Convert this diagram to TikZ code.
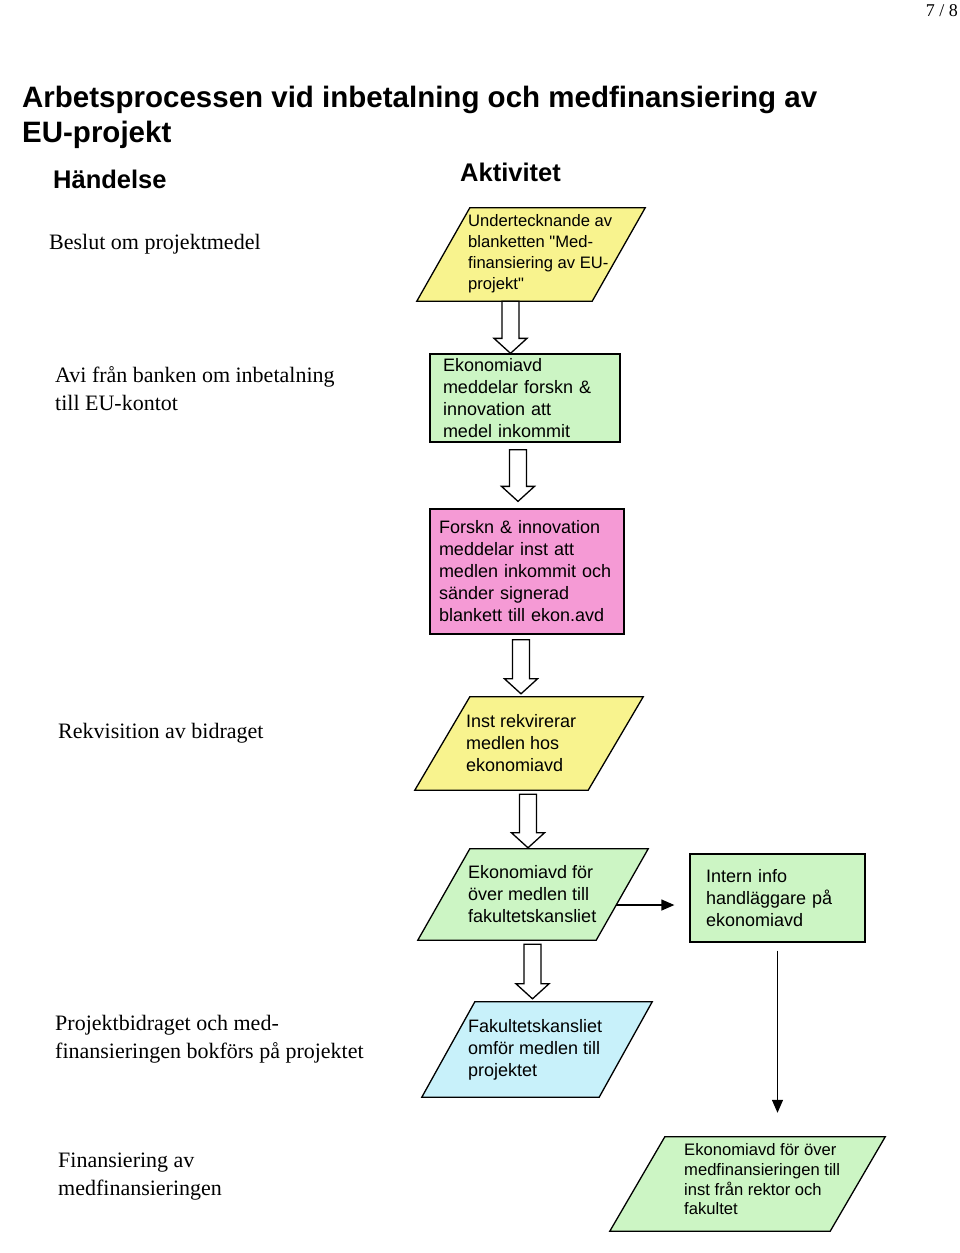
\documentclass[tikz,border=0pt]{standalone}
\usepackage{fontspec}
\setmainfont{Liberation Serif}
\newfontfamily\arialfont{Liberation Sans}
\usepackage{tikz}
\usetikzlibrary{arrows.meta, calc}
\usepackage{xcolor}
\definecolor{paleyellow}{HTML}{F8F38E}
\definecolor{palegreen}{HTML}{CCF5C4}
\definecolor{palepink}{HTML}{F59AD5}
\definecolor{palecyan}{HTML}{C8F1FA}

\newcommand{\blockdown}[3]{%
  \draw[blockarrow] let \p1=(#1), \p2=(#2) in
    ({#3pt-8.5pt},\y1) -- ({#3pt+8.5pt},\y1) -- ({#3pt+8.5pt},\y2+15pt)
    -- ({#3pt+16.5pt},\y2+15pt) -- ({#3pt},\y2) -- ({#3pt-16.5pt},\y2+15pt)
    -- ({#3pt-8.5pt},\y2+15pt) -- cycle;}

\newcommand{\parashape}[3]{%
  \coordinate (#1-bl) at (#1.south west);
  \coordinate (#1-tl) at ($(#1.north west)+(#3,0)$);
  \coordinate (#1-tr) at (#1.north east);
  \coordinate (#1-br) at ($(#1.south east)-(#3,0)$);
  \draw[paraline, fill=#2] (#1-bl) -- (#1-tl) -- (#1-tr) -- (#1-br) -- cycle;}

\begin{document}
\begin{tikzpicture}[x=1pt,y=-1pt]
  \tikzstyle{every node}=[inner sep=0pt]
  \tikzstyle{heading}=[anchor=west, font=\arialfont\bfseries\fontsize{25.5}{30}\selectfont]
  \tikzstyle{event}=[anchor=west, align=left, font=\fontsize{22}{28}\selectfont]
  \tikzstyle{rectbox}=[draw, line width=1.3pt, align=left, font=\arialfont\fontsize{18}{22}\selectfont]
  \tikzstyle{parabox}=[rectangle, minimum height=93, minimum width=228]
  \tikzstyle{paraline}=[draw, line width=1.3pt, line join=miter]
  \tikzstyle{paratext}=[anchor=west, align=left, font=\arialfont\fontsize{18}{22}\selectfont]
  \tikzstyle{blockarrow}=[draw, fill=white, line width=1.3pt, line join=miter]
  \tikzstyle{pointer}=[-{Triangle[length=13pt,width=11pt]}, line width=1.3pt]

  \fill[white] (0,0) rectangle (960,1253);
  \useasboundingbox (0,0) rectangle (960,1253);

  \node[anchor=east, font=\fontsize{18}{20}\selectfont] (page) at (958,11) {7 / 8};
  \node[heading, align=left, font=\arialfont\bfseries\fontsize{29.5}{35}\selectfont] (title) at (22,117)
    {Arbetsprocessen vid inbetalning och medfinansiering av\\EU-projekt};
  \node[heading] (handelse)  at (53,179)  {Händelse};
  \node[heading] (aktivitet) at (460,172) {Aktivitet};

  \node[event] (beslut)       at (49,244)  {Beslut om projektmedel};
  \node[event] (avi)          at (55,389)  {Avi från banken om inbetalning\\till EU-kontot};
  \node[event] (rekvisition)  at (58,733)  {Rekvisition av bidraget};
  \node[event] (bokfor)       at (55,1039) {Projektbidraget och med-\\finansieringen bokförs på projektet};
  \node[event] (finansiering) at (58,1177) {Finansiering av\\medfinansieringen};

  \node[parabox] (signera) at (531,254.5) {};
  \parashape{signera}{paleyellow}{53}
  \node[paratext, font=\arialfont\fontsize{16.6}{21}\selectfont] (signeratext) at (468,253.5)
    {Undertecknande av\\blanketten "Med-\\finansiering av EU-\\projekt"};

  \node[rectbox, fill=palegreen, minimum width=190, minimum height=88, text width=164] (meddela) at (525,398)
    {Ekonomiavd\\meddelar forskn \&\\innovation att\\medel inkommit};
  \node[rectbox, fill=palepink, minimum width=194, minimum height=125, text width=176] (forskn) at (527,571.5)
    {Forskn \& innovation\\meddelar inst att\\medlen inkommit och\\sänder signerad\\blankett till ekon.avd};

  \node[parabox] (rekvirera) at (529,743.5) {};
  \parashape{rekvirera}{paleyellow}{55}
  \node[paratext] (rekvireratext) at (466,743.5) {Inst rekvirerar\\medlen hos\\ekonomiavd};

  \node[parabox, minimum height=91, minimum width=230] (overfor) at (533,894.5) {};
  \parashape{overfor}{palegreen}{52}
  \node[paratext] (overfortext) at (468,894.5) {Ekonomiavd för\\över medlen till\\fakultetskansliet};

  \node[rectbox, fill=palegreen, minimum width=175, minimum height=88, text width=143] (intern) at (777.5,898)
    {Intern info\\handläggare på\\ekonomiavd};

  \node[parabox, minimum height=95, minimum width=230] (omfor) at (537,1049.5) {};
  \parashape{omfor}{palecyan}{53}
  \node[paratext] (omfortext) at (468,1049.5) {Fakultetskansliet\\omför medlen till\\projektet};

  \node[parabox, minimum height=94, minimum width=275] (medfin) at (747.5,1184) {};
  \parashape{medfin}{palegreen}{55}
  \node[paratext, font=\arialfont\fontsize{16.6}{19.7}\selectfont] (medfintext) at (684,1179.5)
    {Ekonomiavd för över\\medfinansieringen till\\inst från rektor och\\fakultet};

  \blockdown{signera.south}{meddela.north}{510.5}
  \blockdown{[yshift=-7pt]meddela.south}{[yshift=7pt]forskn.north}{518}
  \blockdown{[yshift=-5pt]forskn.south}{[yshift=3pt]rekvirera.north}{521}
  \blockdown{[yshift=-4pt]rekvirera.south}{[yshift=1pt]overfor.north}{528}
  \blockdown{[yshift=-4pt]overfor.south}{[yshift=3pt]omfor.north}{532.5}

  \coordinate (overforedge) at ($(overfor-tr)!0.615!(overfor-br)$);
  \draw[pointer, shorten >=15pt] (overforedge) -- (overforedge -| intern.west);
  \draw[pointer, shorten >=24pt] ([yshift=-8pt]intern.south) -- (intern.south |- medfin.north);
\end{tikzpicture}
\end{document}
